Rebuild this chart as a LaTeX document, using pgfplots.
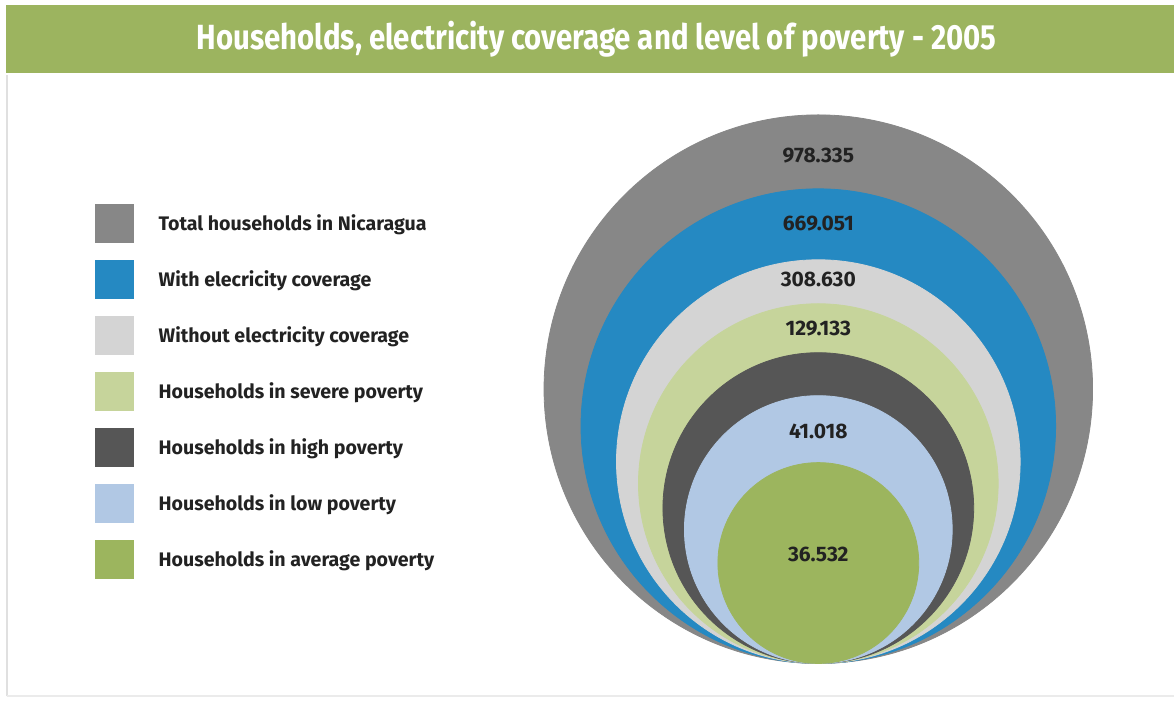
\documentclass[border=0pt]{standalone}
\usepackage{fontspec}
\setmainfont{Fira Sans}
\newfontfamily\titlefont{Fira Sans}[FakeStretch=0.84]
\usepackage{pgfplots}
\pgfplotsset{compat=1.18}
\definecolor{cTotal}{HTML}{878787}
\definecolor{cWith}{HTML}{2589C2}
\definecolor{cWithout}{HTML}{D4D4D4}
\definecolor{cSevere}{HTML}{C6D49B}
\definecolor{cHigh}{HTML}{565656}
\definecolor{cLow}{HTML}{B1C8E4}
\definecolor{cAvg}{HTML}{9CB55E}
\definecolor{cBar}{HTML}{9CB45F}
\definecolor{cText}{HTML}{222222}

\pgfplotstableread{
x y lab
819 545 978.335
819 477 669.051
819 421 308.630
819 372 129.133
819 269 41.018
819 146 36.532
}\valuelabels

\begin{document}
\begin{tikzpicture}
\begin{axis}[
  x=0.5pt, y=0.5pt,
  xmin=0, xmax=1175, ymin=0, ymax=701,
  hide axis, clip=false,
  legend style={at={(axis cs:95,496.5)}, anchor=north west,
    draw=none, fill=none, inner sep=0pt, outer sep=0pt,
    row sep=8.6pt,
    cells={anchor=base west, inner sep=0pt},
    /tikz/every odd column/.append style={column sep=10.5pt},
    font=\bfseries\fontsize{9.8}{11}\selectfont, text=cText},
  legend image code/.code={\fill (0pt,-6.2pt) rectangle (19pt,12.8pt);},
]
\fill[white] (axis cs:0,0) rectangle (axis cs:1175,701);
\fill[cBar] (axis cs:6,628) rectangle (axis cs:1175,696);
\draw[black!12, line width=1pt] (axis cs:7,4) -- (axis cs:7,626);
\draw[black!8, line width=1pt] (axis cs:7,4) -- (axis cs:1175,4);
\node[text=white, font=\titlefont\bfseries\fontsize{17.5}{19}\selectfont, anchor=base]
  at (axis cs:597,651) {Households, electricity coverage and level of poverty - 2005};

\addplot[only marks, mark=*, color=cTotal, mark size=137.25pt] coordinates {(819,311.5)};
\addlegendentry{Total households in Nicaragua}
\addplot[only marks, mark=*, color=cWith, mark size=118.75pt] coordinates {(819,274.5)};
\addlegendentry{With elecricity coverage}
\addplot[only marks, mark=*, color=cWithout, mark size=101pt] coordinates {(819,239)};
\addlegendentry{Without electricity coverage}
\addplot[only marks, mark=*, color=cSevere, mark size=90pt] coordinates {(819,217)};
\addlegendentry{Households in severe poverty}
\addplot[only marks, mark=*, color=cHigh, mark size=77.75pt] coordinates {(819,192.5)};
\addlegendentry{Households in high poverty}
\addplot[only marks, mark=*, color=cLow, mark size=67pt] coordinates {(819,171)};
\addlegendentry{Households in low poverty}
\addplot[only marks, mark=*, color=cAvg, mark size=50.25pt] coordinates {(819,137.5)};
\addlegendentry{Households in average poverty}

\addplot[only marks, mark=none, forget plot,
  nodes near coords, point meta=explicit symbolic,
  every node near coord/.append style={anchor=center,
    font=\bfseries\fontsize{10.5}{12}\selectfont, text=cText}]
  table[x=x, y=y, meta=lab] {\valuelabels};
\end{axis}
\end{tikzpicture}
\end{document}
